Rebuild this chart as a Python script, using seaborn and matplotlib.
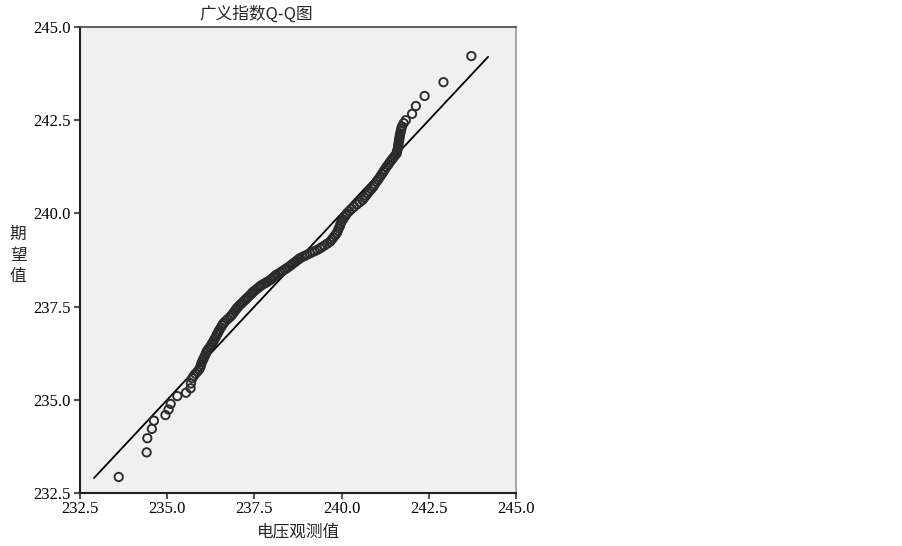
import matplotlib
matplotlib.use("Agg")
import matplotlib.pyplot as plt
import seaborn as sns
import pandas as pd

observed = [
    233.61, 234.41, 234.43, 234.56, 234.62, 234.95, 235.04, 235.10, 235.29, 235.54, 235.67, 235.68,
    235.72, 235.76, 235.81, 235.87, 235.92, 235.95, 235.97, 235.99, 236.02, 236.05, 236.08, 236.11, 236.13,
    236.17, 236.22, 236.26, 236.29, 236.32,
    236.35, 236.39, 236.42, 236.45, 236.47,
    236.50, 236.54, 236.58, 236.61,
    236.66, 236.73, 236.80, 236.85,
    236.89, 236.93, 236.97, 237.00, 237.04,
    237.09, 237.15, 237.20, 237.25, 237.28,
    237.32, 237.37, 237.41, 237.44, 237.47,
    237.52, 237.58, 237.63, 237.67, 237.71,
    237.77, 237.83, 237.88, 237.95,
    237.99, 238.04, 238.08, 238.12,
    238.18, 238.25, 238.31, 238.38, 238.43,
    238.49, 238.55, 238.60, 238.66, 238.71, 238.77, 238.81,
    238.87, 238.94, 239.01, 239.09,
    239.16, 239.23, 239.30, 239.38,
    239.44, 239.51, 239.59, 239.67,
    239.72, 239.77, 239.82, 239.86,
    239.89, 239.92, 239.95, 239.97, 240.00,
    240.04, 240.08, 240.12, 240.15,
    240.22, 240.29, 240.36,
    240.44, 240.52, 240.60,
    240.65, 240.70, 240.75, 240.80, 240.86, 240.91,
    240.95, 241.00, 241.05, 241.10,
    241.15, 241.20, 241.24, 241.29,
    241.34, 241.38, 241.43,
    241.48, 241.53, 241.58,
    241.59, 241.61, 241.62,
    241.63, 241.64, 241.65,
    241.66, 241.67, 241.68,
    241.70, 241.71, 241.73, 241.78, 241.84, 242.02, 242.13, 242.38, 242.92, 243.72,
]
expected = [
    232.93, 233.59, 233.97, 234.22, 234.44, 234.59, 234.74, 234.89, 235.10, 235.19, 235.31, 235.44,
    235.58, 235.64, 235.70, 235.76, 235.82, 235.88, 235.94, 236.00, 236.06, 236.12, 236.18, 236.24, 236.29,
    236.35, 236.41, 236.47, 236.52, 236.56,
    236.62, 236.68, 236.74, 236.79, 236.83,
    236.88, 236.94, 237.00, 237.05,
    237.10, 237.16, 237.22, 237.27,
    237.32, 237.37, 237.42, 237.46, 237.50,
    237.55, 237.60, 237.65, 237.69, 237.72,
    237.76, 237.80, 237.84, 237.87, 237.90,
    237.94, 237.98, 238.02, 238.05, 238.08,
    238.11, 238.14, 238.17, 238.21,
    238.24, 238.28, 238.31, 238.35,
    238.38, 238.42, 238.46, 238.50, 238.53,
    238.57, 238.61, 238.65, 238.69, 238.73, 238.77, 238.80,
    238.83, 238.86, 238.89, 238.93,
    238.96, 238.99, 239.02, 239.06,
    239.10, 239.14, 239.19, 239.24,
    239.30, 239.36, 239.42, 239.47,
    239.53, 239.60, 239.66, 239.72, 239.78,
    239.84, 239.90, 239.95, 240.00,
    240.06, 240.12, 240.18,
    240.24, 240.30, 240.36,
    240.42, 240.48, 240.54, 240.60, 240.66, 240.72,
    240.78, 240.85, 240.91, 240.98,
    241.05, 241.12, 241.18, 241.25,
    241.31, 241.37, 241.43,
    241.49, 241.55, 241.61,
    241.67, 241.73, 241.79,
    241.85, 241.91, 241.97,
    242.03, 242.09, 242.15,
    242.21, 242.27, 242.33, 242.42, 242.50, 242.67, 242.88, 243.15, 243.52, 244.22,
]
# Reference line endpoints
line_x = [232.9, 244.2]
line_y = [232.9, 244.2]

ticks = [232.5, 235.0, 237.5, 240.0, 242.5, 245.0]
tick_labels = ["232.5", "235.0", "237.5", "240.0", "242.5", "245.0"]

title = "广义指数Q-Q图"
xlabel = "电压观测值"
ylabel = "期\n望\n值"

sns.set_style("white")
plt.rcParams['font.family'] = ['Liberation Serif', 'Noto Sans CJK SC', 'DejaVu Sans']

fig = plt.figure(figsize=(9.03, 5.46), dpi=100)
ax = fig.add_axes([80 / 903, 1 - 493 / 546, 436 / 903, 466 / 546])
ax.set_facecolor("#f0f0f0")

df = pd.DataFrame({"obs": observed, "exp": expected})
sns.scatterplot(data=df, x="obs", y="exp", ax=ax, marker="o", s=36,
                facecolor="none", edgecolor="#2a2a2a", linewidth=1.35, zorder=3)
sns.lineplot(x=line_x, y=line_y, ax=ax, color="black", linewidth=1.3, zorder=2)

ax.set_xlim(232.5, 245.0)
ax.set_ylim(232.5, 245.0)
ax.set_xticks(ticks)
ax.set_xticklabels(tick_labels)
ax.set_yticks(ticks)
ax.set_yticklabels(tick_labels)
ax.tick_params(axis="both", direction="out", length=4, width=1.2, color="#333333",
               labelsize=12, labelcolor="black", pad=2, bottom=True, left=True)
ax.tick_params(axis="y", pad=3)

for side in ["left", "bottom"]:
    ax.spines[side].set_color("#222222")
    ax.spines[side].set_linewidth(1.5)
ax.spines["top"].set_color("#444444")
ax.spines["top"].set_linewidth(1.2)
ax.spines["right"].set_color("#9a9a9a")
ax.spines["right"].set_linewidth(1.2)

cjk = ['Noto Sans CJK SC', 'Liberation Serif', 'DejaVu Sans']
ax.set_title(title, fontsize=12, family=cjk, pad=6, x=0.404)
ax.set_xlabel(xlabel, fontsize=12, family=cjk, labelpad=4)
ax.set_ylabel(ylabel, fontsize=12, family=cjk, rotation=0, linespacing=1.3,
              va="center", ha="center")
ax.yaxis.set_label_coords(-0.142, 0.51)

fig.savefig("out.png", dpi=100, facecolor="white")
